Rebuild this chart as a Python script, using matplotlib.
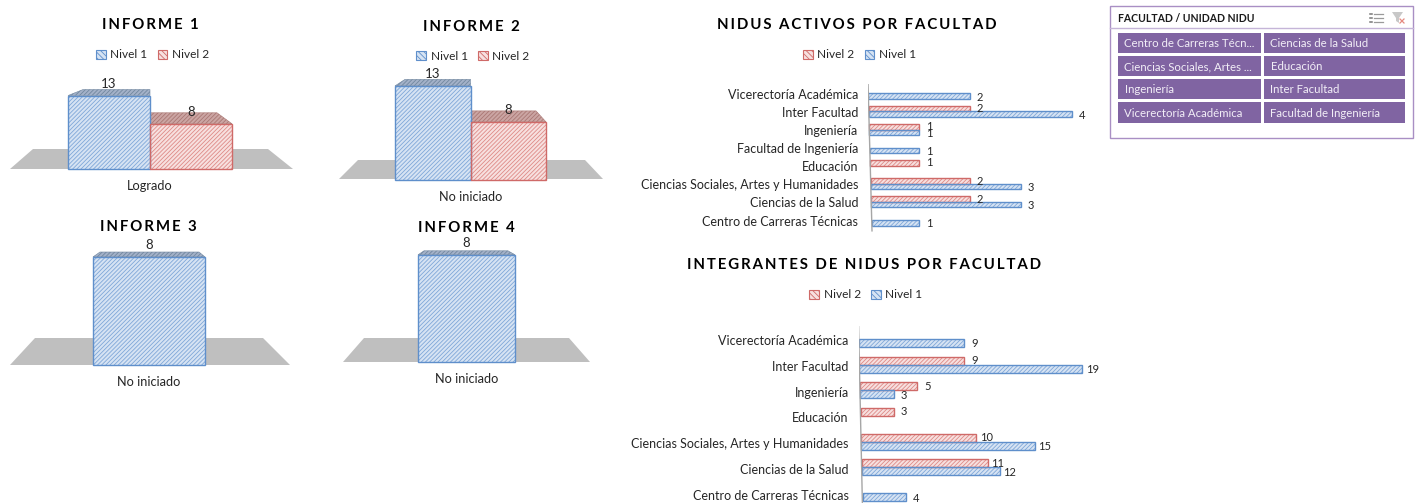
import numpy as np
import matplotlib
matplotlib.use('Agg')
import matplotlib.pyplot as plt
from matplotlib.patches import Patch, Polygon, Rectangle
from matplotlib.transforms import ScaledTranslation

plt.rcParams['font.family'] = ['Lato', 'DejaVu Sans']
plt.rcParams['hatch.linewidth'] = 0.6

W, H = 1420, 503

# datos
informe_titles = ['INFORME 1', 'INFORME 2', 'INFORME 3', 'INFORME 4']
informe_cats = ['Logrado', 'No iniciado', 'No iniciado', 'No iniciado']
informe_n1 = [13, 13, 8, 8]
informe_n2 = [8, 8, None, None]

cats_activos = ['Centro de Carreras Técnicas', 'Ciencias de la Salud',
                'Ciencias Sociales, Artes y Humanidades', 'Educación',
                'Facultad de Ingeniería', 'Ingeniería', 'Inter Facultad',
                'Vicerectoría Académica']
activos_n1 = [1, 3, 3, None, 1, 1, 4, 2]
activos_n2 = [None, 2, 2, 1, None, 1, 2, None]

cats_integrantes = ['Centro de Carreras Técnicas', 'Ciencias de la Salud',
                    'Ciencias Sociales, Artes y Humanidades', 'Educación',
                    'Ingeniería', 'Inter Facultad', 'Vicerectoría Académica']
integrantes_n1 = [4, 12, 15, None, 3, 19, 9]
integrantes_n2 = [None, 11, 10, 3, 5, 9, None]

slicer_title = 'FACULTAD / UNIDAD NIDU'
slicer_items = ['Centro de Carreras Técn...', 'Ciencias de la Salud',
                'Ciencias Sociales, Artes ...', 'Educación',
                'Ingeniería', 'Inter Facultad',
                'Vicerectoría Académica', 'Facultad de Ingeniería']

BLUE, BLUE_F, BLUE_H = '#5F8FCB', '#D6E3F3', '#7FA7D8'
RED, RED_F, RED_H = '#CF6A68', '#F7E0DF', '#DE8A87'
BLUE_T, BLUE_TH = '#A3B1C8', '#71879F'
RED_T, RED_TH = '#CBA5A3', '#A97773'
TXT = '#262626'
HATCH = '////////'


def px_axes(fig, x0, y0, x1, y1):
    return fig.add_axes([x0 / W, 1 - y1 / H, (x1 - x0) / W, (y1 - y0) / H])


def title(page, s, x, y):
    page.text(x, y, '\u2009'.join(s), ha='center', va='center', fontsize=10.8,
              fontweight='bold', color='black')


def legend(fig, ax, order, cx, cy):
    styles = {'Nivel 1': (BLUE_F, BLUE), 'Nivel 2': (RED_F, RED)}
    handles = [Patch(facecolor=styles[k][0], edgecolor=styles[k][1],
                     hatch='\\\\\\\\\\\\', lw=0.8, label=k) for k in order]
    ax.legend(handles=handles, ncol=2, loc='center', frameon=False,
              bbox_to_anchor=(cx / W, 1 - cy / H), bbox_transform=fig.transFigure,
              fontsize=8.6, handlelength=0.8, handleheight=0.85,
              handletextpad=0.4, columnspacing=0.85, labelcolor=TXT)


def column_chart(fig, box, v1, v2, cat, depth, inset):
    # box = izquierda, derecha, base, px por unidad
    left, right, base, scale = box
    top = max(v1, v2 or 0)
    ax = px_axes(fig, left, base - top * scale, right, base)
    ax.patch.set_alpha(0)
    two = v2 is not None
    vals = [v1, v2] if two else [v1]
    xs = [-0.5, 0.5] if two else [0]
    ax.set_xlim(-1, 1) if two else ax.set_xlim(-0.5, 0.5)
    ax.set_ylim(0, top)
    bar_w = (right - left) / (2 if two else 1)
    colors = ((BLUE_F, BLUE_H, BLUE, BLUE_T, BLUE_TH), (RED_F, RED_H, RED, RED_T, RED_TH))
    for x, v, col, d, ins in zip(xs, vals, colors, depth, inset):
        f, h, e, t, th = col
        ax.bar(x, v, width=1, color=f, edgecolor=h, lw=0, hatch=HATCH,
               clip_on=False, zorder=3)
        ax.bar(x, v, width=1, fill=False, edgecolor=e, lw=1, clip_on=False, zorder=3.5)
        # cara superior
        dy = d / scale
        pts = [(x - 0.5, v), (x - 0.5 + ins[0] / bar_w, v + dy),
               (x + 0.5 - ins[1] / bar_w, v + dy), (x + 0.5, v)]
        ax.add_patch(Polygon(pts, closed=True, facecolor=t, edgecolor=th, lw=0.4,
                             hatch=HATCH, clip_on=False, zorder=2))
        ax.annotate(str(v), (x, v), xytext=(0, 12 * 0.72), textcoords='offset points',
                    ha='center', va='center', fontsize=9.5, color=TXT, zorder=5)
    ax.set_yticks([])
    ax.set_xticks([0])
    ax.set_xticklabels([cat], fontsize=9.2, color=TXT)
    ax.tick_params(axis='x', length=0, pad=8)
    for s in ax.spines.values():
        s.set_visible(False)
    return ax


def hbar_chart(fig, box, cats, v1, v2, unit, row, bar_h, slant, row0, lab_shift):
    x0, y0, y1 = box
    ax = px_axes(fig, x0, y0, 1105, y1)
    ax.patch.set_alpha(0)
    ax.set_xlim(0, (1105 - x0) / unit)
    n = len(cats)
    # fila 0 abajo, cada fila = 1 unidad
    low = (y1 - row0) / row
    ax.set_ylim(-low, (y1 - y0) / row - low)
    h = bar_h / row
    off = h * 0.5
    for i in range(n):
        # el eje va inclinado: abajo arranca un poco mas a la derecha
        start = slant * (n - 1 - i) / (n - 1) / unit
        for v, f, hc, e, sgn, dy in ((v2[i], RED_F, RED_H, RED, 1, 0),
                                     (v1[i], BLUE_F, BLUE_H, BLUE, -1, -1)):
            if v is None:
                continue
            ax.barh(i + sgn * off, v - start, left=start, height=h, color=f, edgecolor=hc,
                    lw=0, hatch=HATCH, zorder=3)
            ax.barh(i + sgn * off, v - start, left=start, height=h, fill=False, edgecolor=e,
                    lw=1, zorder=3.5)
            ax.annotate(str(v), (v, i + sgn * off), xytext=(10 * 0.72, dy * 0.72),
                        textcoords='offset points', ha='center', va='center',
                        fontsize=8, color=TXT, zorder=5)
    ax.plot([slant / unit, 0], [-0.6, n - 0.4], color='#A6A6A6', lw=1, zorder=4)
    ax.set_yticks(np.arange(n))
    ax.set_yticklabels(cats, fontsize=9, color=TXT)
    ax.tick_params(axis='y', length=0, pad=7)
    shift = ScaledTranslation(0, -lab_shift / 100, fig.dpi_scale_trans)
    for lab in ax.get_yticklabels():
        lab.set_transform(lab.get_transform() + shift)
    ax.set_xticks([])
    for s in ax.spines.values():
        s.set_visible(False)
    return ax


fig = plt.figure(figsize=(W / 100, H / 100), dpi=100, facecolor='white')
page = fig.add_axes([0, 0, 1, 1])
page.set_xlim(0, W)
page.set_ylim(H, 0)
page.axis('off')

# pisos de los graficos 3D
floors = [[(10, 169), (33, 149), (268, 149), (293, 169)],
          [(339, 179), (358, 160), (585, 160), (603, 179)],
          [(10, 365), (35, 338), (263, 338), (290, 365)],
          [(343, 362), (364, 338), (569, 338), (590, 362)]]
for fl in floors:
    page.add_patch(Polygon(fl, closed=True, facecolor='#BFBFBF', edgecolor='none'))

boxes = [(68, 232, 169, 5.65), (395, 546, 179.5, 7.2), (93, 205, 365, 13.5), (418, 515, 362, 13.4)]
depths = [(6, 11), (6.5, 11), (5, 0), (4, 0)]
insets = [((15, 0), (0, 15)), ((10, 0), (0, 10)), ((7, 6), (0, 0)), ((6, 7), (0, 0))]

axs = []
for i in range(4):
    axs.append(column_chart(fig, boxes[i], informe_n1[i], informe_n2[i], informe_cats[i],
                            depths[i], insets[i]))

title(page, informe_titles[0], 150, 25)
title(page, informe_titles[1], 471, 27)
title(page, informe_titles[2], 148, 227)
title(page, informe_titles[3], 466, 228)
legend(fig, axs[0], ['Nivel 1', 'Nivel 2'], 152.5, 55)
legend(fig, axs[1], ['Nivel 1', 'Nivel 2'], 473, 56)

ax_a = hbar_chart(fig, (868, 84, 232), cats_activos, activos_n1, activos_n2, 51, 18.1, 5.5, 4, 220, 0.5)
ax_b = hbar_chart(fig, (858.5, 326, 503), cats_integrantes, integrantes_n1, integrantes_n2,
                  11.77, 25.7, 8, 4, 493, 1.6)
title(page, 'NIDUS ACTIVOS POR FACULTAD', 857, 25)
title(page, 'INTEGRANTES DE NIDUS POR FACULTAD', 864.5, 265)
legend(fig, ax_a, ['Nivel 2', 'Nivel 1'], 859.5, 55)
legend(fig, ax_b, ['Nivel 2', 'Nivel 1'], 866, 295)

# slicer
page.add_patch(Rectangle((1110, 6), 303, 132, facecolor='white', edgecolor='#A98FC4', lw=1))
page.plot([1110, 1413], [28, 28], color='#C5B5D8', lw=1)
page.text(1118, 18, slicer_title, fontsize=7.6, fontweight='bold', color='#1a1a1a', va='center')
col_x = [(1118, 1261), (1264, 1405)]
row_y = [(33, 53), (56, 76), (79, 99), (102, 123)]
for k, item in enumerate(slicer_items):
    xa, xb = col_x[k % 2]
    ya, yb = row_y[k // 2]
    page.add_patch(Rectangle((xa, ya), xb - xa, yb - ya, facecolor='#8064A2', edgecolor='none'))
    page.text(xa + 6.5, (ya + yb) / 2 + 0.5, item, color='#F2EEF7', fontsize=8.2, va='center')
# iconos
for yy in (13.5, 18, 22):
    page.plot([1374, 1383], [yy, yy], color='#9A9A9A', lw=0.9)
    page.plot([1370, 1372], [yy, yy], color='#777777', lw=1.1)
page.add_patch(Polygon([(1392, 12), (1403, 12), (1399, 18), (1399, 23), (1396, 21), (1396, 18)],
                       closed=True, facecolor='#C8C8C8', edgecolor='none'))
page.plot([1400, 1404], [19, 23], color='#E58A80', lw=0.9)
page.plot([1404, 1400], [19, 23], color='#E58A80', lw=0.9)

fig.savefig('out.png', dpi=100)
